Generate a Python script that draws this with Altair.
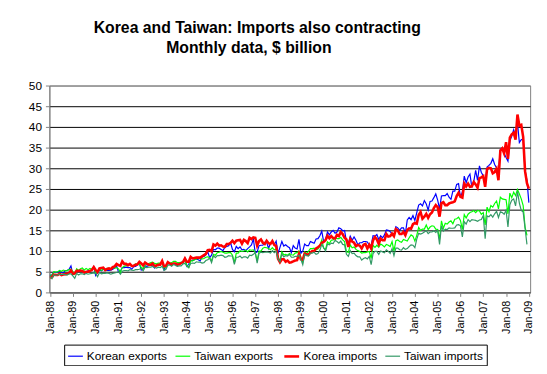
import json
import altair as alt
import pandas as pd

title_lines = ["Korea and Taiwan: Imports also contracting", "Monthly data, $ billion"]
series_names = ["Korean exports", "Taiwan exports", "Korea imports", "Taiwan imports"]
series_colors = ["#0000FF", "#00FF00", "#FF0000", "#339966"]
series_widths = [1.2, 1.2, 2.6, 1.2]
tick_labels = ["Jan-88", "Jan-89", "Jan-90", "Jan-91", "Jan-92", "Jan-93", "Jan-94",
               "Jan-95", "Jan-96", "Jan-97", "Jan-98", "Jan-99", "Jan-00", "Jan-01",
               "Jan-02", "Jan-03", "Jan-04", "Jan-05", "Jan-06", "Jan-07", "Jan-08", "Jan-09"]
y_ticks = [0, 5, 10, 15, 20, 25, 30, 35, 40, 45, 50]

# Monthly values, $ billion, Jan-1988 onward
korean_exports = [
    3.9, 4.3, 4.9, 4.8, 4.9, 5.1, 4.8, 4.7, 5.3, 5.3, 5.6, 6.4,
    4.3, 4.7, 5.2, 5.0, 5.2, 5.3, 4.7, 4.7, 5.3, 5.3, 5.4, 6.2,
    4.1, 4.8, 5.4, 5.2, 5.6, 5.5, 5.3, 5.3, 5.4, 5.6, 5.9, 6.4,
    5.0, 5.1, 6.0, 6.0, 6.1, 6.0, 6.0, 5.6, 6.2, 6.3, 6.6, 7.0,
    5.4, 5.7, 6.4, 6.3, 6.5, 6.6, 6.4, 5.9, 6.7, 6.8, 6.9, 7.5,
    5.5, 6.2, 7.0, 6.8, 6.8, 7.0, 6.8, 6.4, 7.1, 7.2, 7.5, 8.2,
    6.3, 6.8, 7.8, 7.7, 7.9, 8.1, 7.9, 7.6, 8.6, 8.7, 9.1, 9.8,
    8.4, 9.0, 10.4, 10.3, 10.7, 10.7, 10.4, 10.1, 10.9, 11.1, 11.3, 12.0,
    10.4, 9.8, 11.1, 10.6, 11.0, 10.3, 10.4, 10.1, 10.6, 11.0, 11.5, 12.9,
    9.5, 9.8, 11.3, 11.4, 11.4, 12.1, 12.1, 10.6, 12.0, 12.3, 11.5, 12.4,
    9.4, 10.9, 12.3, 11.2, 11.5, 11.1, 10.8, 9.6, 11.3, 10.7, 10.5, 12.8,
    9.4, 10.0, 11.7, 11.3, 11.3, 12.3, 12.1, 11.9, 12.9, 13.0, 13.7, 14.8,
    12.2, 12.8, 14.6, 13.9, 14.6, 15.0, 14.3, 14.6, 15.6, 15.4, 14.9, 15.0,
    12.2, 11.8, 13.6, 12.6, 13.4, 12.6, 11.5, 12.0, 12.0, 12.3, 12.3, 12.2,
    11.4, 11.4, 13.7, 13.6, 14.0, 12.8, 13.7, 13.2, 13.9, 15.1, 15.0, 14.7,
    14.2, 13.7, 15.9, 15.6, 15.0, 15.6, 15.6, 14.2, 17.5, 18.1, 17.6, 18.6,
    17.4, 19.3, 21.1, 21.4, 20.9, 22.2, 21.4, 19.9, 22.0, 22.1, 22.9, 23.8,
    22.3, 20.2, 23.3, 23.4, 23.4, 23.9, 23.0, 22.5, 24.5, 24.5, 26.1, 26.3,
    22.9, 24.3, 28.1, 26.5, 27.9, 28.6, 25.4, 26.8, 29.5, 27.1, 30.6, 29.0,
    28.2, 26.6, 30.3, 30.7, 31.2, 32.3, 30.9, 30.1, 29.4, 34.5, 34.9, 33.6,
    32.6, 31.7, 36.6, 37.8, 39.3, 37.8, 41.0, 36.2, 36.9, 37.1, 29.3, 27.1,
    21.7,
]

taiwan_exports = [
    4.3, 4.0, 5.0, 4.9, 5.0, 5.3, 5.1, 5.4, 5.2, 5.3, 5.5, 5.6,
    5.0, 4.4, 5.7, 5.3, 5.7, 5.9, 5.4, 5.8, 5.5, 5.8, 5.6, 6.1,
    4.7, 4.8, 5.7, 5.3, 5.6, 5.6, 5.8, 5.8, 5.7, 5.9, 5.9, 6.0,
    5.7, 4.9, 6.0, 6.3, 6.5, 6.4, 6.9, 6.4, 6.5, 6.9, 6.8, 6.9,
    6.0, 5.8, 6.6, 6.8, 7.0, 7.2, 7.3, 7.0, 6.9, 7.1, 7.1, 7.0,
    6.0, 6.0, 7.0, 7.1, 7.2, 7.5, 7.5, 7.2, 7.2, 7.3, 7.4, 7.8,
    6.5, 6.0, 7.6, 7.6, 7.9, 8.0, 8.3, 8.1, 8.1, 8.2, 8.5, 8.6,
    8.4, 7.6, 9.2, 9.0, 9.6, 9.7, 9.9, 9.7, 9.5, 9.5, 9.6, 9.6,
    9.0, 7.2, 9.5, 9.5, 10.1, 9.9, 10.0, 10.2, 9.8, 10.3, 10.2, 10.3,
    9.6, 7.6, 10.0, 10.0, 10.7, 10.9, 10.8, 10.6, 10.3, 10.8, 10.3, 10.5,
    8.4, 7.6, 9.8, 9.1, 9.2, 9.0, 9.4, 9.1, 9.0, 9.5, 9.6, 10.0,
    8.5, 7.3, 9.8, 9.4, 9.9, 10.6, 10.6, 10.7, 10.3, 10.5, 11.3, 12.7,
    10.7, 10.4, 12.2, 11.8, 12.6, 12.7, 13.3, 13.0, 13.0, 13.3, 12.7, 12.3,
    9.8, 9.7, 11.5, 10.8, 11.0, 10.4, 10.1, 9.9, 9.5, 9.6, 9.6, 9.8,
    9.9, 8.2, 11.4, 10.9, 11.4, 10.9, 11.7, 11.4, 11.0, 11.6, 11.4, 11.1,
    12.3, 10.0, 12.5, 12.7, 12.3, 12.1, 12.8, 12.6, 12.4, 13.2, 13.9, 13.6,
    12.4, 13.8, 15.7, 15.0, 15.3, 15.3, 16.3, 15.2, 15.8, 16.1, 16.0, 15.3,
    15.2, 12.8, 17.3, 15.5, 16.7, 16.5, 17.0, 17.3, 16.6, 17.7, 17.8, 18.2,
    17.4, 15.2, 18.8, 18.0, 18.9, 19.3, 19.5, 19.8, 19.3, 19.8, 19.7, 18.9,
    19.3, 16.3, 20.6, 19.5, 21.0, 20.6, 21.5, 22.1, 20.2, 23.0, 22.6, 22.5,
    22.4, 19.0, 24.0, 22.9, 24.2, 23.4, 24.9, 23.8, 22.6, 21.0, 15.8, 13.8,
]

korea_imports = [
    3.5, 3.7, 4.3, 4.2, 4.2, 4.5, 4.2, 4.3, 4.4, 4.5, 4.7, 5.3,
    4.5, 4.6, 5.2, 5.2, 5.3, 5.2, 4.8, 5.0, 5.0, 5.2, 5.4, 6.1,
    5.4, 4.9, 5.8, 5.9, 6.0, 5.4, 5.7, 5.8, 5.6, 6.1, 6.3, 6.9,
    6.6, 6.4, 7.5, 6.9, 6.9, 6.6, 6.9, 6.4, 6.4, 6.7, 6.8, 7.4,
    7.0, 6.5, 7.2, 6.9, 6.7, 6.7, 7.0, 6.3, 6.5, 6.7, 6.7, 7.6,
    6.3, 6.4, 7.3, 7.0, 6.7, 7.0, 7.0, 6.7, 6.8, 7.1, 7.3, 8.2,
    7.4, 7.4, 8.6, 8.2, 8.3, 8.4, 8.4, 8.4, 8.7, 9.0, 9.3, 10.2,
    10.3, 9.9, 11.6, 11.3, 11.8, 11.3, 11.4, 11.1, 11.0, 11.7, 11.7, 12.0,
    12.5, 11.9, 12.5, 12.6, 12.7, 11.8, 12.7, 12.4, 11.9, 13.2, 12.9, 13.3,
    13.2, 11.3, 12.4, 12.8, 12.0, 11.7, 12.5, 11.9, 11.7, 12.4, 11.5, 11.2,
    8.1, 7.3, 8.0, 8.0, 7.4, 7.7, 7.2, 7.3, 7.5, 7.7, 7.8, 9.3,
    8.0, 7.9, 9.4, 9.2, 9.1, 9.6, 10.0, 10.0, 10.6, 10.9, 11.3, 12.0,
    12.2, 12.6, 13.7, 13.1, 13.6, 13.1, 13.0, 13.9, 13.6, 14.6, 14.1, 13.2,
    12.8, 11.0, 12.9, 12.3, 12.0, 11.2, 11.5, 11.3, 10.6, 11.5, 11.7, 10.6,
    11.5, 10.6, 12.6, 13.4, 12.8, 11.7, 13.0, 12.6, 12.6, 14.1, 13.5, 13.6,
    14.2, 13.6, 15.3, 15.0, 14.1, 14.1, 14.6, 13.8, 15.1, 15.5, 15.4, 16.5,
    16.8, 16.6, 18.7, 19.4, 17.8, 18.3, 19.0, 18.0, 18.9, 19.3, 20.4, 21.1,
    20.6, 18.3, 21.6, 21.8, 21.1, 21.1, 21.5, 21.7, 21.8, 22.0, 23.3, 24.1,
    23.1, 22.9, 26.3, 25.6, 26.3, 25.5, 25.6, 26.7, 26.1, 25.3, 27.6, 27.8,
    28.1, 25.5, 29.8, 30.1, 30.0, 28.8, 29.1, 29.9, 27.1, 34.3, 34.8, 33.6,
    36.3, 32.3, 37.4, 38.2, 38.6, 36.9, 43.0, 40.3, 40.5, 37.6, 29.3, 26.4,
    25.1,
]

taiwan_imports = [
    3.8, 3.3, 4.2, 4.1, 4.2, 4.4, 4.3, 4.4, 4.3, 4.2, 4.5, 4.5,
    4.0, 3.4, 4.6, 4.2, 4.5, 4.5, 4.3, 4.6, 4.4, 4.5, 4.6, 4.7,
    4.6, 3.8, 4.8, 4.5, 4.6, 4.6, 4.7, 4.6, 4.4, 4.6, 4.7, 4.8,
    5.0, 4.4, 5.1, 5.3, 5.3, 5.2, 5.5, 5.4, 5.3, 5.5, 5.5, 5.6,
    5.8, 5.2, 6.1, 6.0, 6.1, 6.1, 6.3, 6.1, 5.9, 6.1, 6.0, 6.3,
    5.3, 5.6, 6.6, 6.6, 6.3, 6.8, 6.5, 6.3, 6.4, 6.4, 6.9, 7.0,
    6.3, 6.0, 7.0, 7.1, 7.0, 7.4, 7.3, 7.3, 7.1, 7.2, 7.7, 7.9,
    8.3, 7.2, 8.9, 8.4, 8.9, 8.9, 9.0, 8.9, 8.5, 8.6, 8.9, 8.8,
    8.8, 6.8, 8.5, 8.5, 8.8, 8.3, 8.6, 8.6, 8.3, 9.0, 8.9, 9.2,
    9.6, 7.1, 9.5, 9.7, 9.6, 9.7, 9.8, 9.7, 9.5, 10.1, 9.6, 10.0,
    8.1, 7.4, 9.3, 8.6, 8.9, 8.8, 9.2, 8.5, 8.5, 8.7, 8.7, 9.0,
    8.0, 6.7, 9.2, 8.9, 8.8, 9.5, 9.5, 9.7, 9.2, 9.4, 10.2, 11.6,
    10.8, 10.0, 11.7, 11.5, 11.9, 11.8, 12.6, 12.3, 11.9, 12.4, 11.6, 11.5,
    9.2, 8.7, 10.1, 9.4, 9.5, 8.9, 8.6, 8.6, 7.8, 8.2, 8.4, 8.1,
    8.7, 6.7, 9.4, 9.9, 9.9, 9.2, 10.0, 9.8, 9.6, 10.3, 9.9, 9.4,
    10.6, 8.9, 10.7, 10.7, 10.3, 10.2, 10.8, 10.4, 10.6, 11.1, 11.5, 11.4,
    10.8, 12.9, 14.3, 14.1, 14.3, 14.6, 14.9, 14.2, 14.6, 14.6, 14.9, 14.5,
    15.0, 11.6, 16.1, 14.8, 15.3, 15.2, 15.6, 15.5, 15.5, 15.6, 16.3, 16.4,
    16.1, 13.4, 17.1, 16.5, 17.6, 17.1, 17.6, 17.5, 17.4, 17.2, 17.5, 17.6,
    18.6, 13.0, 18.5, 18.3, 18.8, 18.2, 19.0, 19.6, 18.1, 19.5, 19.3, 18.9,
    19.9, 15.8, 21.2, 22.3, 22.6, 20.9, 24.4, 21.6, 19.8, 19.4, 15.5, 11.6,
]

all_values = [korean_exports, taiwan_exports, korea_imports, taiwan_imports]
rows = []
for name, vals in zip(series_names, all_values):
    for i, v in enumerate(vals):
        rows.append({"series": name, "month": i, "value": v})
df = pd.DataFrame(rows)

FONT = "Liberation Sans"

legend = alt.Legend(
    orient="none", legendX=15, legendY=263, direction="horizontal", title=None,
    symbolType="stroke", symbolSize=225, labelFontSize=12, labelFont=FONT,
    labelColor="black", labelOffset=3, columnPadding=5, padding=3,
    strokeColor="#000000", fillColor="white",
)

x_enc = alt.X(
    "month:Q",
    scale=alt.Scale(domain=[-0.36, 252.67], nice=False, zero=False),
    axis=alt.Axis(
        values=list(range(0, 253, 12)),
        labelExpr=json.dumps(tick_labels) + "[round(datum.value / 12)]",
        labelAngle=270, labelAlign="right", labelBaseline="middle",
        labelFontSize=11, labelFont=FONT, labelColor="black", labelPadding=4,
        tickSize=4, tickColor="#808080", domainColor="#808080",
        grid=False, title=None, labelOverlap=False,
    ),
)
y_enc = alt.Y(
    "value:Q",
    scale=alt.Scale(domain=[0, 50], nice=False),
    axis=alt.Axis(
        values=y_ticks, grid=True,
        gridColor={"condition": {"test": "datum.value == 50", "value": "#808080"}, "value": "#000000"},
        gridWidth=1, domainColor="#808080", tickColor="#808080", tickSize=4,
        labelFontSize=12, labelFont=FONT, labelColor="black", labelPadding=4,
        title=None,
    ),
)

base = alt.Chart(df)
layers = []
for name in series_names:
    layers.append(
        base.transform_filter(alt.datum.series == name)
        .mark_line()
        .encode(
            x=x_enc,
            y=y_enc,
            color=alt.Color("series:N", scale=alt.Scale(domain=series_names, range=series_colors), legend=legend),
            strokeWidth=alt.StrokeWidth("series:N", scale=alt.Scale(type="ordinal", domain=series_names, range=series_widths), legend=legend),
        )
    )

title_df1 = pd.DataFrame({"t": [title_lines[0]]})
title_df2 = pd.DataFrame({"t": [title_lines[1]]})
t1 = alt.Chart(title_df1).mark_text(font=FONT, fontSize=16, fontWeight="bold", align="center", baseline="alphabetic", color="black").encode(
    x=alt.value(211), y=alt.value(-53), text="t:N")
t2 = alt.Chart(title_df2).mark_text(font=FONT, fontSize=16, fontWeight="bold", align="center", baseline="alphabetic", color="black").encode(
    x=alt.value(202.5), y=alt.value(-33), text="t:N")

chart = alt.layer(*layers, t1, t2).properties(
    width=488, height=210,
    autosize=alt.AutoSizeParams(type="none"),
    padding={"left": 42, "top": 76, "right": 9, "bottom": 72},
    background="white",
).configure_view(stroke="#808080", strokeWidth=1)

chart.save("out.html", embed_options={"renderer": "svg", "actions": False})
